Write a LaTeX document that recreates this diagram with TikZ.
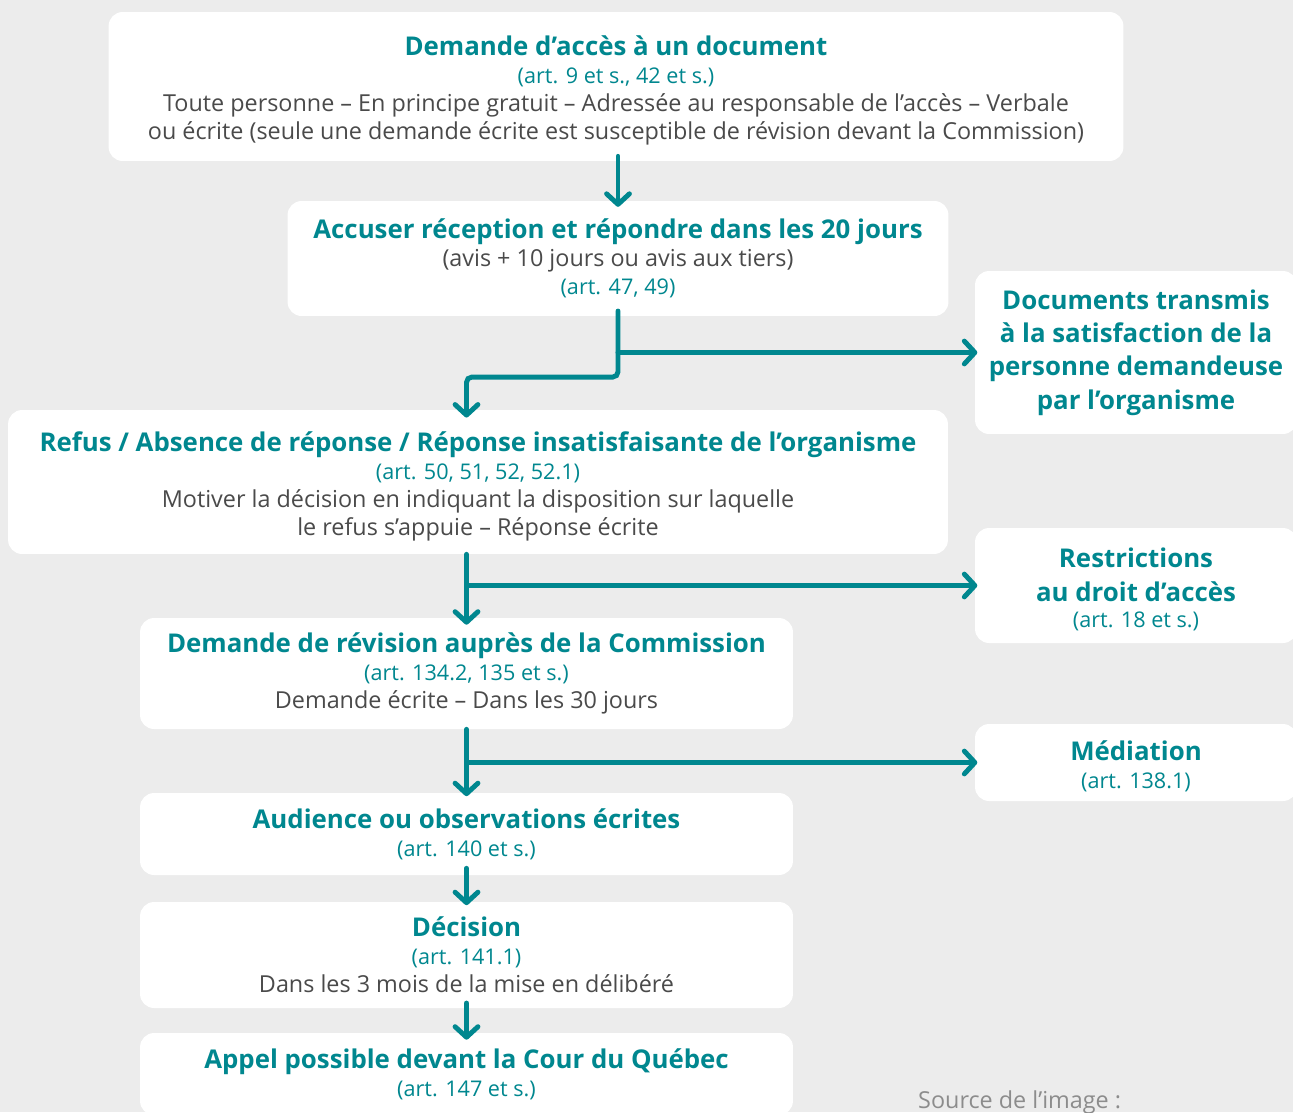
\documentclass[tikz,border=0pt]{standalone}
\usepackage{fontspec}
\setmainfont{Open Sans}
\usetikzlibrary{arrows.meta}

\definecolor{bleuvert}{HTML}{00878F}
\definecolor{texte}{HTML}{4A4A4A}
\definecolor{fond}{HTML}{ECECEC}
\definecolor{source}{HTML}{8C8C8C}

\newcommand{\titre}[1]{{\fontsize{14.7}{18}\selectfont\bfseries\color{bleuvert}#1}}
\newcommand{\art}[1]{{\fontsize{12.3}{15}\selectfont\color{bleuvert}#1}}
\newcommand{\decale}{\rule{0pt}{16pt}}

\begin{document}
\begin{tikzpicture}[
        x=0.02cm, y=-0.02cm,
        font=\fontsize{13.3}{15.9}\selectfont,
        boite/.style={fill=white, rounded corners=8pt, align=center, inner sep=0pt, text=texte},
        cote/.style={boite, minimum width=6.44cm, font=\fontsize{13.3}{18.9}\selectfont},
        fleche/.style={draw=bleuvert, line width=2.8pt, line cap=round, rounded corners=3pt,
            -{Straight Barb[length=6pt, width=13pt, round]}}
    ]
        % --- Fond ---
        \fill[fond] (0,0) rectangle (1293,1112);
        \useasboundingbox (0,0) rectangle (1293,1112);
        \clip (0,0) rectangle (1293,1112);

        % --- Colonne principale ---
        \node[boite, minimum width=20.30cm, minimum height=2.98cm] (demande) at (616,86.5)
            {\titre{\decale Demande d’accès à un document}\\
             \art{(art. 9 et s., 42 et s.)}\\
             Toute personne – En principe gratuit – Adressée au responsable de l’accès – Verbale\\
             ou écrite (seule une demande écrite est susceptible de révision devant la Commission)};
        \node[boite, minimum width=13.22cm, minimum height=2.30cm] (accuser) at (618,258.5)
            {\titre{Accuser réception et répondre dans les 20 jours}\\
             (avis + 10 jours ou avis aux tiers)\\
             \art{(art. 47, 49)}};
        \node[boite, minimum width=18.80cm, minimum height=2.88cm] (refus) at (478,482)
            {\titre{\decale Refus / Absence de réponse / Réponse insatisfaisante de l’organisme}\\
             \art{(art. 50, 51, 52, 52.1)}\\
             Motiver la décision en indiquant la disposition sur laquelle\\
             le refus s’appuie – Réponse écrite};
        \node[boite, minimum width=13.06cm, minimum height=2.22cm] (revision) at (466.5,673.5)
            {\titre{Demande de révision auprès de la Commission}\\
             \art{(art. 134.2, 135 et s.)}\\
             Demande écrite – Dans les 30 jours};
        \node[boite, minimum width=13.06cm, minimum height=1.64cm] (audience) at (466.5,834)
            {\titre{Audience ou observations écrites}\\
             \art{(art. 140 et s.)}};
        \node[boite, minimum width=13.06cm, minimum height=2.12cm] (decision) at (466.5,955)
            {\titre{Décision}\\
             \art{(art. 141.1)}\\
             Dans les 3 mois de la mise en délibéré};
        \node[boite, minimum width=13.06cm, minimum height=1.64cm] (appel) at (466.5,1074)
            {\titre{Appel possible devant la Cour du Québec}\\
             \art{(art. 147 et s.)}};

        % --- Colonne de droite ---
        \node[cote, minimum height=3.26cm] (transmis) at (1136,352.5)
            {\titre{Documents transmis}\\
             \titre{à la satisfaction de la}\\
             \titre{personne demandeuse}\\
             \titre{par l’organisme}};
        \node[cote, minimum height=2.30cm] (restrictions) at (1136,585.5)
            {\titre{\decale Restrictions}\\
             \titre{au droit d’accès}\\[-3.7pt]
             \art{(art. 18 et s.)}};
        \node[cote, minimum height=1.54cm] (mediation) at (1136,762.5)
            {\titre{\decale Médiation}\\[-3.1pt]
             \art{(art. 138.1)}};

        \node[text=source, anchor=west] (source) at (912,1102) {Source de l’image :};

        % --- Flèches ---
        \draw[fleche] (accuser.north |- demande.south) ++(0,-5) -- ([yshift=-3.5pt]accuser.north);
        \draw[fleche] ([yshift=3pt]accuser.south) -- ++(0,66) -| ([yshift=-4.5pt]revision.north |- refus.north);
        \draw[fleche] (accuser.south |- transmis.west) -- ([xshift=1.5pt]transmis.west);

        \draw[fleche] (revision.north |- refus.south) -- ([yshift=-4pt]revision.north);
        \draw[fleche] (revision.north |- restrictions.west) -- ([xshift=1.5pt]restrictions.west);

        \draw[fleche] (revision.south) -- ([yshift=-2pt]audience.north);
        \draw[fleche] (revision.south |- mediation.west) -- ([xshift=1.5pt]mediation.west);

        \draw[fleche] ([yshift=4pt]audience.south) -- ([yshift=-2pt]decision.north);
        \draw[fleche] ([yshift=3pt]decision.south) -- ([yshift=-4pt]appel.north);
\end{tikzpicture}
\end{document}
